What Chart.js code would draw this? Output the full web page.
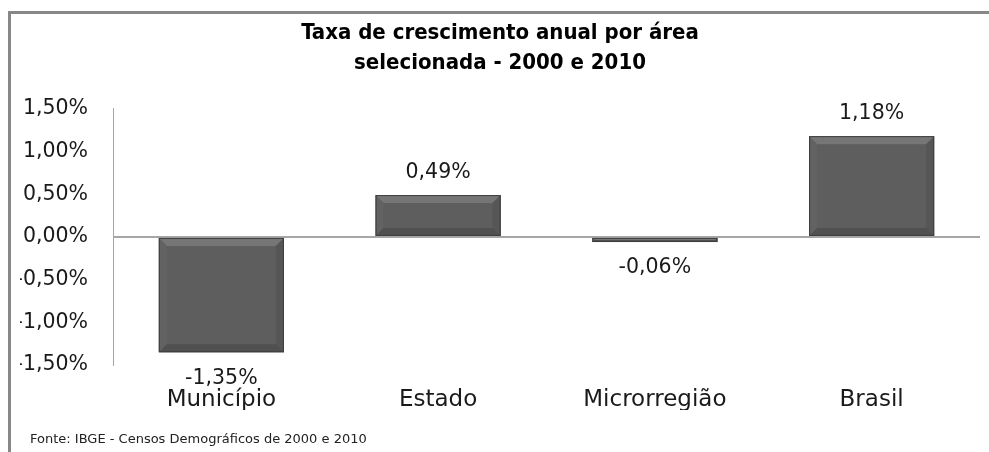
<!DOCTYPE html>
<html>
<head>
<meta charset="utf-8">
<script src="https://cdn.jsdelivr.net/npm/chart.js@4/dist/chart.umd.min.js"></script>
<style>
html,body{margin:0;padding:0;background:#fff;}
#wrap{position:relative;width:989px;height:452px;}
</style>
</head>
<body>
<div id="wrap"><canvas id="c" width="989" height="452"></canvas></div>
<script>
const categories = ["Município", "Estado", "Microrregião", "Brasil"];
const growthRates = [-1.35, 0.49, -0.06, 1.18];
const yTicks = [-1.5, -1.0, -0.5, 0.0, 0.5, 1.0, 1.5];
const titleLines = ["Taxa de crescimento anual por área", "selecionada - 2000 e 2010"];
const sourceNote = "Fonte: IBGE - Censos Demográficos de 2000 e 2010";

const fmt = v => v.toFixed(2).replace('.', ',') + '%';
const BASE_FONT = "'DejaVu Sans', sans-serif";

const framePlugin = {
  id: 'frame',
  beforeDraw(chart) {
    const ctx = chart.ctx;
    ctx.save();
    ctx.fillStyle = '#fff';
    ctx.fillRect(0, 0, chart.width, chart.height);
    ctx.fillStyle = '#878787';
    ctx.fillRect(8, 11, 3, chart.height - 11);
    ctx.fillRect(8, 11, chart.width - 8, 3);
    ctx.restore();
  },
  afterDraw(chart) {
    const ctx = chart.ctx;
    ctx.save();
    ctx.font = "13px " + BASE_FONT;
    ctx.fillStyle = '#222';
    ctx.textBaseline = 'middle';
    ctx.textAlign = 'left';
    ctx.fillText(sourceNote, 30, 440);
    ctx.restore();
  }
};

const bevelPlugin = {
  id: 'bevel',
  afterDatasetsDraw(chart) {
    const ctx = chart.ctx;
    const meta = chart.getDatasetMeta(0);
    meta.data.forEach((el, i) => {
      const p = el.getProps(['x', 'y', 'base', 'width'], true);
      const l = p.x - p.width / 2, r = p.x + p.width / 2;
      const t = Math.min(p.y, p.base), b = Math.max(p.y, p.base);
      const h = b - t;
      const s = Math.min(8, h / 2);
      ctx.save();
      ctx.fillStyle = '#767676';
      ctx.beginPath(); ctx.moveTo(l, t); ctx.lineTo(r, t); ctx.lineTo(r - s, t + s); ctx.lineTo(l + s, t + s); ctx.closePath(); ctx.fill();
      ctx.fillStyle = '#626262';
      ctx.beginPath(); ctx.moveTo(l, t); ctx.lineTo(l + s, t + s); ctx.lineTo(l + s, b - s); ctx.lineTo(l, b); ctx.closePath(); ctx.fill();
      ctx.fillStyle = '#565656';
      ctx.beginPath(); ctx.moveTo(r, t); ctx.lineTo(r - s, t + s); ctx.lineTo(r - s, b - s); ctx.lineTo(r, b); ctx.closePath(); ctx.fill();
      ctx.fillStyle = '#505050';
      ctx.beginPath(); ctx.moveTo(l, b); ctx.lineTo(r, b); ctx.lineTo(r - s, b - s); ctx.lineTo(l + s, b - s); ctx.closePath(); ctx.fill();
      ctx.strokeStyle = '#3e3e3e';
      ctx.lineWidth = 1;
      ctx.strokeRect(l + 0.5, t + 0.5, p.width - 1, h - 1);
      ctx.restore();
    });
  }
};

const valueLabelPlugin = {
  id: 'valueLabels',
  afterDraw(chart) {
    const ctx = chart.ctx;
    const meta = chart.getDatasetMeta(0);
    ctx.save();
    ctx.font = "20.5px " + BASE_FONT;
    ctx.fillStyle = '#1a1a1a';
    ctx.textAlign = 'center';
    ctx.textBaseline = 'middle';
    meta.data.forEach((el, i) => {
      const v = growthRates[i];
      const y = v >= 0 ? el.y - 22 : el.y + 26;
      ctx.fillText(fmt(v), el.x, y);
    });
    ctx.restore();
  }
};

new Chart(document.getElementById('c'), {
  type: 'bar',
  data: {
    labels: categories,
    datasets: [{
      data: growthRates,
      backgroundColor: '#5e5e5e',
      borderWidth: 0,
      barPercentage: 0.577,
      categoryPercentage: 1.0
    }]
  },
  options: {
    responsive: false,
    animation: false,
    devicePixelRatio: 1,
    layout: { padding: { left: 20, right: 9, top: 4, bottom: 42 } },
    plugins: {
      legend: { display: false },
      tooltip: { enabled: false },
      title: {
        display: true,
        text: titleLines,
        color: '#000',
        font: { family: "'DejaVu Sans Condensed', 'DejaVu Sans', sans-serif", size: 22, weight: 'bold', lineHeight: 1.36 },
        padding: { top: 14, bottom: 31 }
      }
    },
    scales: {
      x: {
        grid: { display: false },
        border: { display: false },
        ticks: { color: '#1a1a1a', font: { family: BASE_FONT, size: 23 }, padding: 13, maxRotation: 0 },
        afterFit: s => { s.height = 45; }
      },
      y: {
        min: -1.5,
        max: 1.5,
        afterBuildTicks: s => { s.ticks = yTicks.map(v => ({ value: v })); },
        ticks: { color: '#1a1a1a', font: { family: BASE_FONT, size: 20.5 }, padding: 25, callback: v => fmt(v) },
        grid: {
          drawTicks: false,
          color: c => (c.tick && c.tick.value === 0) ? '#a6a6a6' : 'rgba(0,0,0,0)',
          lineWidth: 2
        },
        border: { display: true, color: '#a6a6a6', width: 1 },
        afterFit: s => { s.width = 93; }
      }
    }
  },
  plugins: [framePlugin, bevelPlugin, valueLabelPlugin]
});
</script>
</body>
</html>
